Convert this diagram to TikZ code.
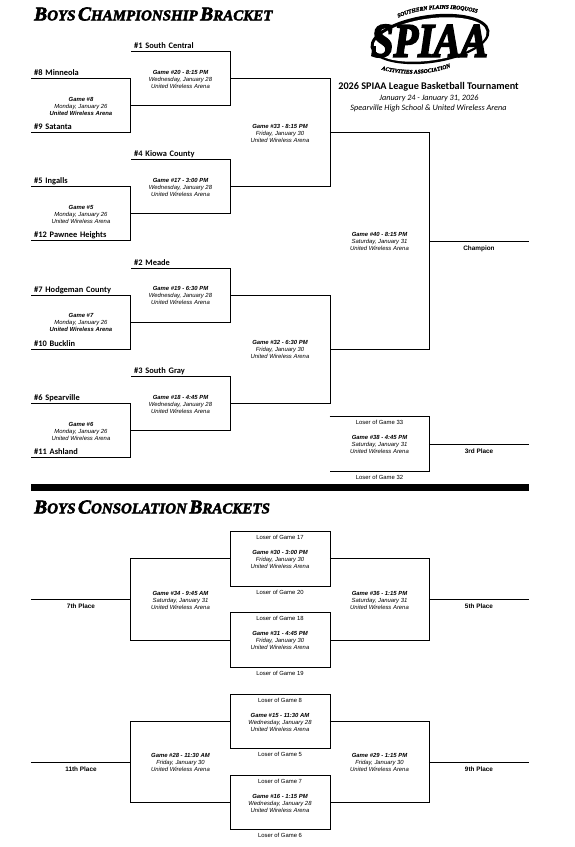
\documentclass[tikz,border=0pt]{standalone}
\usepackage{fontspec}
\setmainfont{Liberation Sans}
\newfontfamily\teamfont{Carlito}
\newfontfamily\headfont[BoldItalicFeatures={FakeBold=3}]{Liberation Serif}
\newfontfamily\logoletters[BoldItalicFeatures={FakeBold=4}]{Liberation Serif}
\usetikzlibrary{decorations.text}
\newcommand{\arena}{United Wireless Arena}
\newcommand{\hdword}[2]{{\fontsize{19.5}{19}\selectfont #1}{\fontsize{15}{15}\selectfont #2}}
\newcommand{\logofont}{\headfont\bfseries\itshape\fontsize{5.6}{6}\selectfont}
\tikzset{
  bracket/.style={draw=black,line width=0.85pt,line join=miter},
  team/.style={anchor=south west,inner xsep=3pt,inner ysep=0pt,text width=93.5pt,align=left,
    text height=8pt,text depth=2.8pt,font=\teamfont\bfseries\fontsize{8.4}{10}\selectfont},
  game/.style={inner sep=0pt,minimum width=99.5pt,align=center,font=\itshape\fontsize{5.9}{7}\selectfont},
  loser/.style={anchor=north,inner xsep=0pt,inner ysep=3.6pt,minimum width=99.5pt,align=center,
    font=\fontsize{5.9}{7}\selectfont},
  place/.style={anchor=north,inner xsep=0pt,inner ysep=4.4pt,minimum width=100pt,align=center,
    font=\bfseries\fontsize{6.4}{7}\selectfont},
  heading/.style={anchor=west,inner sep=0pt,font=\headfont\bfseries\itshape},
  info/.style={inner sep=0pt,align=center,font=\teamfont\itshape\fontsize{8.2}{10}\selectfont},
}
\begin{document}
\begin{tikzpicture}[x=1pt,y=-1pt]
  \useasboundingbox (0,0) rectangle (575,847);
  % headings
  \node[heading] (hdchamp) at (34,14) {\hdword{B}{OYS} \hdword{C}{HAMPIONSHIP} \hdword{B}{RACKET}};
  \node[heading] (hdcons) at (34,507) {\hdword{B}{OYS} \hdword{C}{ONSOLATION} \hdword{B}{RACKETS}};
  \fill[black] (31,484) rectangle (529,491);
  % logo
  \fill[black,rotate around={8:(430,39)}] (430,39) ellipse [x radius=60pt,y radius=24pt];
  \fill[white,rotate around={8:(430,39)}] (430,39.5) ellipse [x radius=57pt,y radius=21pt];
  \node[inner sep=0pt] (logo) at (429.5,41) {\scalebox{.84}[1]{\logoletters\bfseries\itshape\fontsize{48}{48}\selectfont SPIAA}};
  \path[decorate,decoration={text along path,text align=center,
    text={|\logofont|SOUTHERN PLAINS IROQUOIS}}] (392,21) .. controls (415,7) and (455,5) .. (484,15);
  \path[decorate,decoration={text along path,text align=center,
    text={|\logofont|ACTIVITIES ASSOCIATION}}] (376,68) .. controls (400,76) and (430,76) .. (456,65);
  \node[inner sep=0pt,font=\teamfont\bfseries\fontsize{10.2}{12}\selectfont] (title) at (428.5,87) {2026 SPIAA League Basketball Tournament};
  \node[info] (dates) at (429,98) {January 24 - January 31, 2026};
  \node[info] (venue) at (428.5,108.5) {Spearville High School \& United Wireless Arena};
  % teams
  \foreach \nm/\x/\y/\lbl in {t1/131/51.3/{\#1 South Central},t8/31/78.7/{\#8 Minneola},t9/31/132.7/{\#9 Satanta},
    t4/131/159.3/{\#4 Kiowa County},t5/31/186.7/{\#5 Ingalls},t12/31/240.7/{\#12 Pawnee Heights},
    t2/131/268/{\#2 Meade},t7/31/295/{\#7 Hodgeman County},t10/31/349/{\#10 Bucklin},
    t3/131/376/{\#3 South Gray},t6/31/403.3/{\#6 Spearville},t11/31/457.3/{\#11 Ashland}}
    \node[team] (\nm) at (\x,\y) {\lbl};
  % games
  \foreach \nm/\x/\y/\lbl/\dy in {g20/180.5/78.7/{\#20 - 8:15 PM}/{Wednesday, January 28},g17/180.5/186.7/{\#17 - 3:00 PM}/{Wednesday, January 28},
    g19/180.5/295/{\#19 - 6:30 PM}/{Wednesday, January 28},g18/180.5/403.3/{\#18 - 4:45 PM}/{Wednesday, January 28},
    g33/280/132.7/{\#33 - 8:15 PM}/{Friday, January 30},g32/280/349/{\#32 - 6:30 PM}/{Friday, January 30},
    g40/379.5/241/{\#40 - 8:15 PM}/{Saturday, January 31},g38/379.5/444/{\#38 - 4:45 PM}/{Saturday, January 31},
    g30/280/558.7/{\#30 - 3:00 PM}/{Friday, January 30},g31/280/640/{\#31 - 4:45 PM}/{Friday, January 30},
    g34/180.5/599.3/{\#34 - 9:45 AM}/{Saturday, January 31},g36/379.5/599.3/{\#36 - 1:15 PM}/{Saturday, January 31},
    g15/280/721.3/{\#15 - 11:30 AM}/{Wednesday, January 28},g16/280/802.7/{\#16 - 1:15 PM}/{Wednesday, January 28},
    g28/180.5/762/{\#28 - 11:30 AM}/{Friday, January 30},g29/379.5/762/{\#29 - 1:15 PM}/{Friday, January 30},
    g5/81/213.7/{\#5}/{Monday, January 26},g6/81/430.3/{\#6}/{Monday, January 26}}
    \node[game] (\nm) at (\x,\y) {\rule{0pt}{6pt}\textbf{Game \lbl}\\\dy\\\arena};
  \node[game] (g8) at (81,105.7) {\rule{0pt}{6pt}\textbf{Game \#8}\\Monday, January 26\\\textbf{\arena}};
  \node[game] (g7) at (81,322) {\rule{0pt}{6pt}\textbf{Game \#7}\\Monday, January 26\\\textbf{\arena}};
  % losers
  \foreach \nm/\x/\y/\lbl in {l33/379.5/416.7/33,l32/379.5/471/32,l17/280/531/17,l20/280/586/20,l18/280/612.7/18,l19/280/667/19,
    l8/280/694.3/8,l5/280/748.3/5,l7/280/775.3/7,l6/280/829.7/6}
    \node[loser] (\nm) at (\x,\y) {Loser of Game \lbl};
  % places
  \foreach \nm/\x/\y/\lbl in {pchamp/479/241/Champion,pthird/479/444/3rd Place,pseven/81/599.3/7th Place,
    pfive/479/599.3/5th Place,peleven/81/762/11th Place,pnine/479/762/9th Place}
    \node[place] (\nm) at (\x,\y) {\lbl};
  % first round
  \foreach \top/\bot in {t8/t9,t5/t12,t7/t10,t6/t11}
    \draw[bracket] (\top.south west) -- (\top.south east) |- (\bot.south west);
  % second round
  \foreach \top/\bot in {t1/g8,t4/g5,t2/g7,t3/g6}
    \draw[bracket] (\top.south west) -- (\top.south east) |- (\bot.east);
  % semifinals and final
  \draw[bracket] (g20.east) -| (g33.east) |- (g17.east);
  \draw[bracket] (g19.east) -| (g32.east) |- (g18.east);
  \draw[bracket] (g33.east) -| (g40.east) |- (g32.east);
  \draw[bracket] (g40.east) -- (pchamp.north east);
  \draw[bracket] (l33.north west) -- (l33.north east) |- (l32.north west);
  \draw[bracket] (pthird.north west) -- (pthird.north east);
  % consolation
  \foreach \up/\dn in {l17/l20,l18/l19,l8/l5,l7/l6}
    \draw[bracket] (\up.north west) rectangle (\dn.north east);
  \draw[bracket] (g30.west) -| (g34.west) |- (g31.west);
  \draw[bracket] (g30.east) -| (g36.east) |- (g31.east);
  \draw[bracket] (g15.west) -| (g28.west) |- (g16.west);
  \draw[bracket] (g15.east) -| (g29.east) |- (g16.east);
  \foreach \nm in {pseven,pfive,peleven,pnine}
    \draw[bracket] (\nm.north west) -- (\nm.north east);
\end{tikzpicture}
\end{document}
